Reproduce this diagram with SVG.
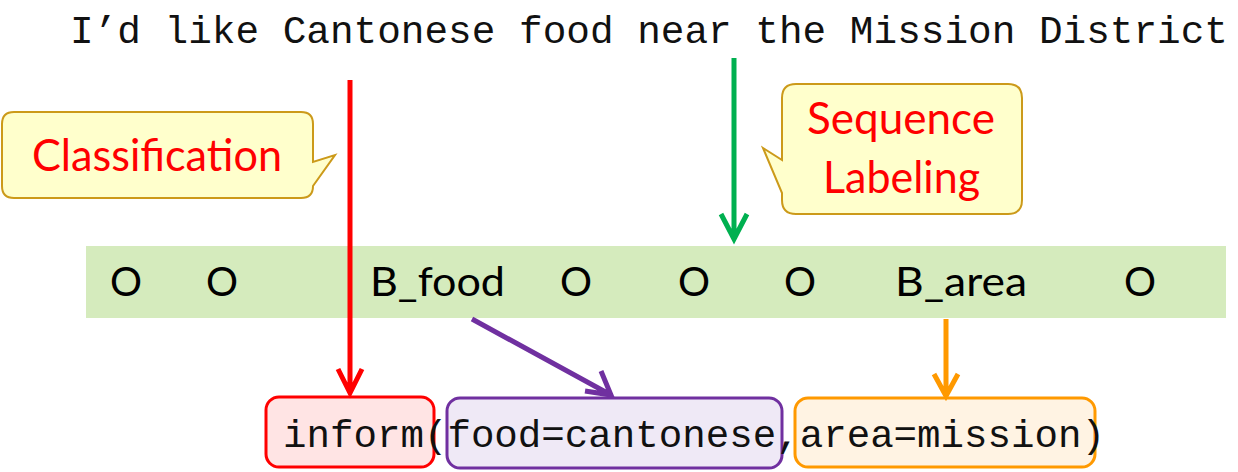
<svg xmlns="http://www.w3.org/2000/svg" width="1238" height="472" viewBox="0 0 1238 472">
<style>
.mono{font-family:"Liberation Mono","DejaVu Sans Mono",monospace;font-size:39px;fill:#111}
.lab{font-family:Lato,"Open Sans",sans-serif;font-size:40px;fill:#000}
.call{font-family:Lato,"Open Sans",sans-serif;font-size:45px;fill:#ff0000}
.bubble{fill:#ffffcc;stroke:#cc9a1a;stroke-width:2}
.arr{fill:none;stroke-width:5;stroke-linecap:butt}
</style>
<rect width="1238" height="472" fill="#fff"/>
<g id="sentence">
<text class="mono" x="70" y="43" textLength="1158" lengthAdjust="spacingAndGlyphs">I’d like Cantonese food near the Mission District</text>
</g>
<g id="tags">
<rect x="86" y="246" width="1140" height="72" fill="#d5ebbd"/>
<text class="lab" x="126" y="296" text-anchor="middle">O</text>
<text class="lab" x="222" y="296" text-anchor="middle">O</text>
<text class="lab" x="370" y="296" textLength="135" lengthAdjust="spacingAndGlyphs">B_food</text>
<text class="lab" x="576" y="296" text-anchor="middle">O</text>
<text class="lab" x="694" y="296" text-anchor="middle">O</text>
<text class="lab" x="800" y="296" text-anchor="middle">O</text>
<text class="lab" x="895" y="296" textLength="132" lengthAdjust="spacingAndGlyphs">B_area</text>
<text class="lab" x="1140" y="296" text-anchor="middle">O</text>
</g>
<g id="classification">
<path class="bubble" d="M14,112 H301 Q313,112 313,124 V162 L335,155 L313,186 Q313,198 301,198 H14 Q2,198 2,186 V124 Q2,112 14,112 Z"/>
<text class="call" x="32" y="171" textLength="250" lengthAdjust="spacingAndGlyphs">Classification</text>
</g>
<g id="sequence-labeling">
<path class="bubble" d="M796,84 H1008 Q1022,84 1022,98 V200 Q1022,214 1008,214 H796 Q782,214 782,200 V193 L763,148 L782,160 V98 Q782,84 796,84 Z"/>
<text class="call" x="807" y="134" textLength="188" lengthAdjust="spacingAndGlyphs">Sequence</text>
<text class="call" x="823" y="193" textLength="157" lengthAdjust="spacingAndGlyphs">Labeling</text>
</g>
<g id="intent">
<rect x="266" y="397" width="168" height="70" rx="13" fill="#ffe4e4" stroke="#ff0000" stroke-width="3"/>
</g>
<g id="slot-food">
<rect x="447" y="398" width="335" height="70" rx="13" fill="#efe9f6" stroke="#7030a0" stroke-width="3"/>
</g>
<g id="slot-area">
<rect x="795" y="398" width="300" height="69" rx="13" fill="#fff3e3" stroke="#ff9900" stroke-width="3"/>
</g>
<g id="frame">
<text class="mono" x="283" y="447" textLength="822" lengthAdjust="spacingAndGlyphs">inform(food=cantonese,area=mission)</text>
</g>
<g id="connectors">
<path class="arr" stroke="#ff0000" d="M350,80 V393 M338,369 L350,393 L362,369"/>
<path class="arr" stroke="#00b050" d="M734,58 V239 M721,214 L734,239 L747,214"/>
<path class="arr" stroke="#7030a0" d="M472,319 L611,395 M585,391 L611,395 L601,371"/>
<path class="arr" stroke="#ff9900" d="M946,319 V396 M934,374 L946,396 L958,374"/>
</g>
</svg>
